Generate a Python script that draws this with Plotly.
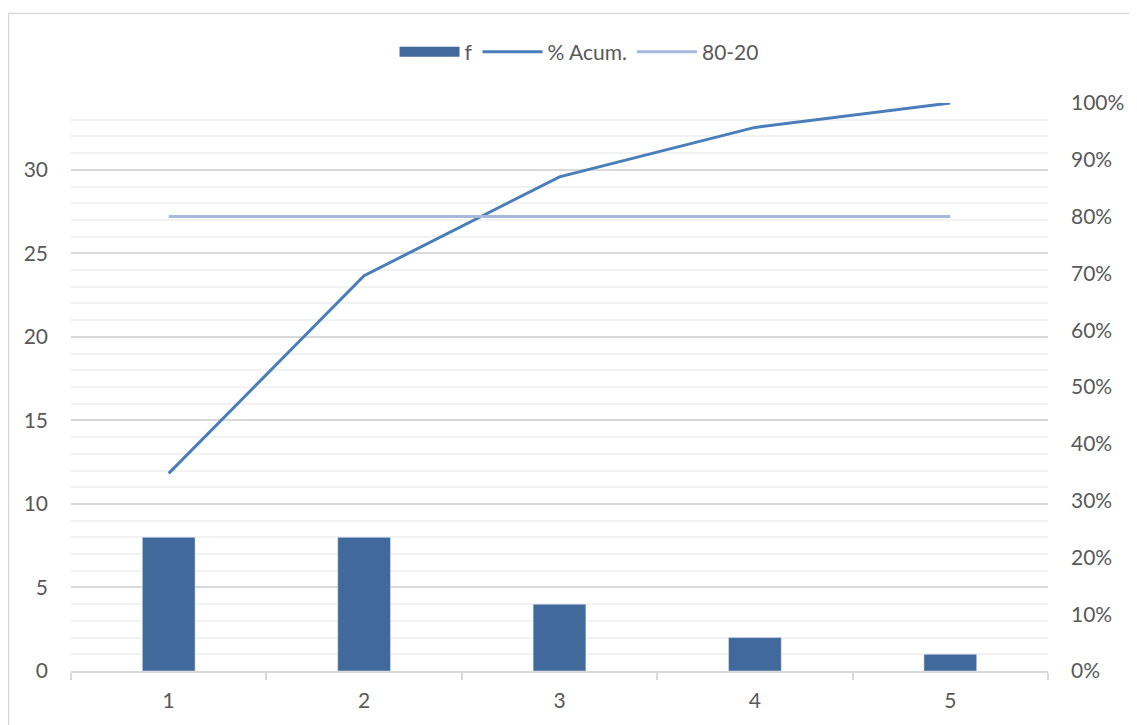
import plotly.graph_objects as go

categories = ["1", "2", "3", "4", "5"]
freq = [8, 8, 4, 2, 1]
cum_pct = [0.348, 0.696, 0.870, 0.957, 1.0]
ref_80 = [0.80, 0.80, 0.80, 0.80, 0.80]
left_ticks = [0, 5, 10, 15, 20, 25, 30]

FONT = "Lato, Open Sans, sans-serif"
TXT = "#595959"
BAR_COLOR = "#41699c"

# page body has an 8px margin, so the figure is drawn at (8, 8)
W, H = 1129, 717
L, R, T, B = 63, 89, 95, 54
PW = W - L - R
PH = H - T - B

fig = go.Figure()
fig.add_trace(go.Bar(x=categories, y=freq, name="f", marker_color=BAR_COLOR,
                     width=0.27, yaxis="y", legendgroup="f", showlegend=False))
# legend entry for the bars drawn as a wide swatch, like the reference
fig.add_trace(go.Scatter(x=[None], y=[None], name="f", mode="lines",
                         line=dict(color=BAR_COLOR, width=13), legendgroup="f",
                         hoverinfo="skip"))
fig.add_trace(go.Scatter(x=categories, y=cum_pct, name="% Acum.", mode="lines",
                         line=dict(color="#4a7ebb", width=3), yaxis="y2"))
fig.add_trace(go.Scatter(x=categories, y=ref_80, name="80-20", mode="lines",
                         line=dict(color="#a6b9dc", width=3), yaxis="y2"))

fig.update_layout(
    width=W, height=H,
    margin=dict(l=L, r=R, t=T, b=B, autoexpand=False),
    paper_bgcolor="white", plot_bgcolor="white",
    font=dict(family=FONT, size=21, color=TXT),
    showlegend=True,
    legend=dict(orientation="h", x=0.52, xanchor="center",
                y=1 + (T - 44) / PH, yanchor="middle",
                font=dict(size=21, color=TXT), itemwidth=60, traceorder="normal"),
    xaxis=dict(type="category", showgrid=False, showline=True, linecolor="#d9d9d9",
               linewidth=1.5, ticks="outside", tickson="boundaries", ticklen=7,
               tickcolor="#d9d9d9", tickwidth=1.5, range=[-0.5, 4.5],
               ticklabelstandoff=10,
               tickfont=dict(size=21, color=TXT), zeroline=False, automargin=False),
    yaxis=dict(range=[0, 34], tickvals=left_ticks, showgrid=True, gridcolor="#d9d9d9",
               gridwidth=1.5, zeroline=False, showline=False, ticks="",
               ticklabelstandoff=22, automargin=False,
               minor=dict(dtick=1, tick0=0, showgrid=True, gridcolor="#f2f2f2", gridwidth=1.5),
               tickfont=dict(size=21, color=TXT)),
    yaxis2=dict(range=[0, 1], overlaying="y", side="right", dtick=0.1, tick0=0,
                tickformat=".0%", showgrid=False, zeroline=False, showline=False,
                ticks="", ticklabelstandoff=22, automargin=False,
                tickfont=dict(size=21, color=TXT)),
    shapes=[dict(type="rect", xref="paper", yref="paper",
                 x0=(0.5 - L) / PW, x1=1.3, y0=-0.3, y1=1 + (T - 5.5) / PH,
                 line=dict(color="#d9d9d9", width=1.5), fillcolor="rgba(0,0,0,0)",
                 layer="below")],
)

fig.write_html("out.html")
